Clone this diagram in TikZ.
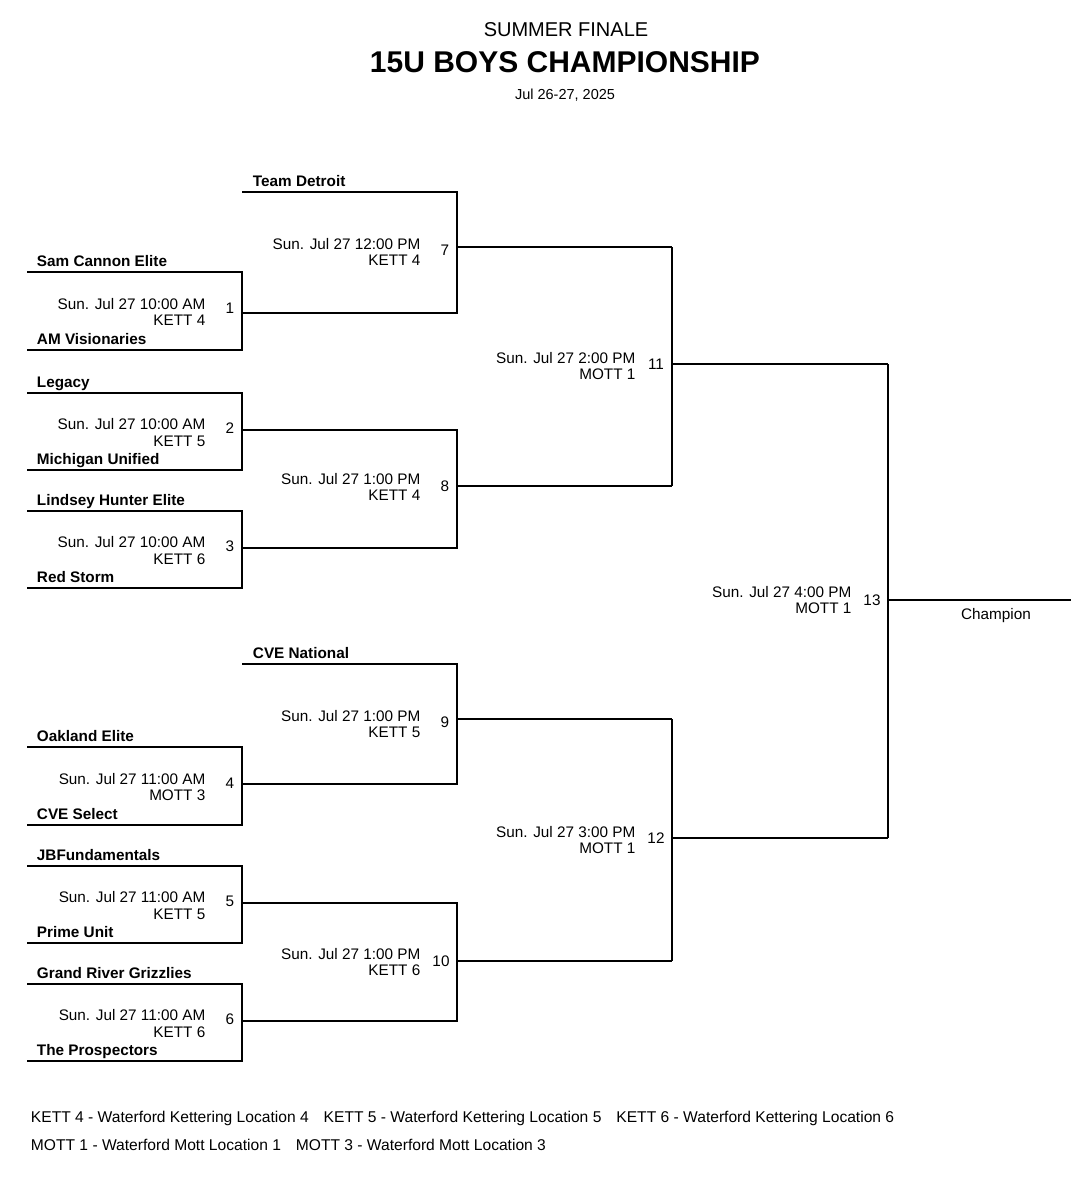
\documentclass[tikz,border=0pt]{standalone}
\usepackage{fontspec}
\setmainfont{Liberation Sans}
\begin{document}
\begin{tikzpicture}[x=1pt,y=-1pt,line width=1.3pt,
 team/.style={anchor=base west,font=\fontsize{15.3}{17}\selectfont\bfseries},
 info/.style={anchor=east,font=\fontsize{15.3}{16.5}\selectfont,align=right,inner sep=0pt},
 num/.style={anchor=center,font=\fontsize{15.3}{17}\selectfont},
 leg/.style={anchor=base west,font=\fontsize{15.6}{17}\selectfont}]
\useasboundingbox (0,0) rectangle (1071,1200);
\node[anchor=center,font=\fontsize{20}{22}\selectfont] (t1) at (566,30) {SUMMER FINALE};
\node[anchor=center,font=\fontsize{30}{32}\selectfont\bfseries] (t2) at (565,62) {15U BOYS CHAMPIONSHIP};
\node[anchor=center,font=\fontsize{14.5}{16}\selectfont] (t3) at (565,95) {Jul 26-27, 2025};
\foreach \t/\b/\ta/\tb/\tm/\lc/\n in {
272/350/Sam Cannon Elite/AM Visionaries/10:00 AM/KETT 4/1,
393/470/Legacy/Michigan Unified/10:00 AM/KETT 5/2,
511/588/Lindsey Hunter Elite/Red Storm/10:00 AM/KETT 6/3,
747/825/Oakland Elite/CVE Select/11:00 AM/MOTT 3/4,
866/943/JBFundamentals/Prime Unit/11:00 AM/KETT 5/5,
984/1061/Grand River Grizzlies/The Prospectors/11:00 AM/KETT 6/6}{
 \draw (27,\t) -- (242,\t) -- (242,\b) -- (27,\b);
 \node[team] (ga\n) at (33,\t-6) {\ta};
 \node[team] (gb\n) at (33,\b-6) {\tb};
 \node[info] (gi\n) at (206,{(\t+\b)/2+1}) {Sun. Jul 27 \tm\\\lc};
 \node[num] (gn\n) at (230,{(\t+\b)/2-3}) {\n};
}
\draw (242,192) -- (457,192) -- (457,313) -- (242,313);
\node[team] (td) at (249,186) {Team Detroit};
\draw (457,247) -- (672,247);
\node[info] (i7) at (421,252) {Sun. Jul 27 12:00 PM\\KETT 4};
\node[num] (n7) at (445,250) {7};
\draw (242,430) -- (457,430) -- (457,548) -- (242,548);
\draw (457,486) -- (672,486);
\node[info] (i8) at (421,487) {Sun. Jul 27 1:00 PM\\KETT 4};
\node[num] (n8) at (445,486) {8};
\draw (242,664) -- (457,664) -- (457,784) -- (242,784);
\node[team] (cve) at (249,658) {CVE National};
\draw (457,719) -- (672,719);
\node[info] (i9) at (421,724) {Sun. Jul 27 1:00 PM\\KETT 5};
\node[num] (n9) at (445,722) {9};
\draw (242,903) -- (457,903) -- (457,1021) -- (242,1021);
\draw (457,961) -- (672,961);
\node[info] (i10) at (421,962) {Sun. Jul 27 1:00 PM\\KETT 6};
\node[num] (n10) at (441,961) {10};
\draw (672,247) -- (672,486);
\draw (672,364) -- (888,364);
\node[info] (i11) at (636,366) {Sun. Jul 27 2:00 PM\\MOTT 1};
\node[num] (n11) at (656,364) {11};
\draw (672,719) -- (672,961);
\draw (672,838) -- (888,838);
\node[info] (i12) at (636,840) {Sun. Jul 27 3:00 PM\\MOTT 1};
\node[num] (n12) at (656,838) {12};
\draw (888,364) -- (888,838);
\draw (888,600) -- (1071,600);
\node[info] (i13) at (852,600) {Sun. Jul 27 4:00 PM\\MOTT 1};
\node[num] (n13) at (872,600) {13};
\node[anchor=center,font=\fontsize{15.3}{17}\selectfont] (ch) at (996,616) {Champion};
\node[leg] (l1) at (27,1122) {KETT 4 - Waterford Kettering Location 4\hspace{15pt}KETT 5 - Waterford Kettering Location 5\hspace{15pt}KETT 6 - Waterford Kettering Location 6};
\node[leg] (l2) at (27,1150) {MOTT 1 - Waterford Mott Location 1\hspace{15pt}MOTT 3 - Waterford Mott Location 3};
\end{tikzpicture}
\end{document}
